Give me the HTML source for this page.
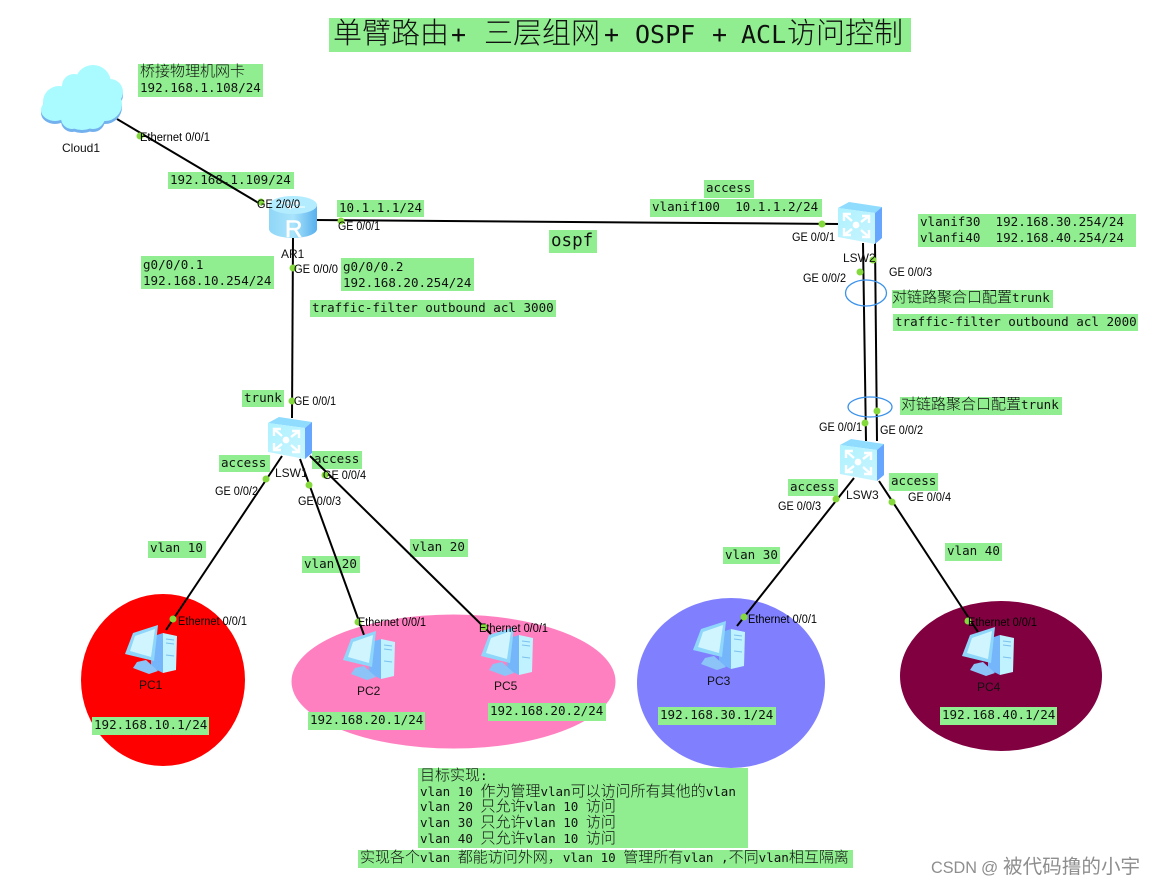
<!DOCTYPE html>
<html lang="zh">
<head>
<meta charset="utf-8">
<title>单臂路由 三层组网 OSPF ACL访问控制</title>
<style>
html,body{margin:0;padding:0;background:#fff}
svg{display:block}
text{white-space:pre}
.bx{fill:#90ee90}
.t{font-family:"DejaVu Sans Mono","Liberation Mono","Noto Sans CJK SC",monospace;font-size:12.55px;fill:#111}
.c{font-family:"Noto Sans CJK SC","WenQuanYi Zen Hei",sans-serif;font-size:15px;font-weight:300}
.title{font-size:25px}
.title .c{font-size:29px}
.p{font-family:"Liberation Sans",sans-serif;font-size:11.5px;fill:#000}
.n{font-family:"Liberation Sans",sans-serif;font-size:12px;fill:#111}
.l{stroke:#000;stroke-width:2;fill:none}
.d{fill:#84d93c}
</style>
</head>
<body>
<svg width="1156" height="885" viewBox="0 0 1156 885" xmlns="http://www.w3.org/2000/svg">
<defs>
<linearGradient id="rg" x1="0" y1="0" x2="1" y2="0"><stop offset="0" stop-color="#8fd6f8"/><stop offset=".5" stop-color="#a9e4fb"/><stop offset="1" stop-color="#58b0ee"/></linearGradient>
<linearGradient id="sg" x1="0" y1="0" x2="1" y2="1"><stop offset="0" stop-color="#aef2ff"/><stop offset="1" stop-color="#c8f4ff"/></linearGradient>
<symbol id="sw" width="46" height="44" viewBox="0 0 46 44" overflow="visible">
<polygon points="0,6 11,0 44,5 37,11" fill="#8fdcff"/>
<polygon points="0,6 37,11 37,42 0,35" fill="url(#sg)"/>
<polygon points="37,11 44,5 44,36 37,42" fill="#66a6ff"/>
<circle cx="18" cy="23" r="3.4" fill="#fff"/>
<g stroke="#fff" stroke-width="2.4" fill="none">
<path d="M6 12l8 7M6 19v-7h7"/><path d="M31 14l-8 6M31 21v-7h-7"/>
<path d="M6 33l8-6M6 26v7h7"/><path d="M31 35l-8-7M31 28v7h-7"/>
</g>
</symbol>
<symbol id="pc" width="56" height="50" viewBox="0 0 56 50" overflow="visible">
<polygon points="27,12 39,8 39,48 27,42" fill="#75b6fb"/>
<polygon points="39,8 53,11 52,45 39,48" fill="#c0f2ff"/>
<path d="M42 14l8 1M42 18l8 1M42 30l8 1" stroke="#7cc0ee" stroke-width="1" fill="none"/>
<polygon points="13,37 22,35 34,46 25,49 9,43" fill="#8cc4f8"/>
<polygon points="9,8 34,0 30,36 1,29" fill="#8fd6fb"/>
<polygon points="11,11 31,4 27,32 6,26" fill="#d0f5ff"/>
</symbol>
<g id="cl">
<circle cx="93" cy="83" r="18"/><circle cx="74" cy="86" r="12"/><circle cx="59" cy="102" r="16"/>
<circle cx="82" cy="108" r="22"/><circle cx="105" cy="104" r="17"/><circle cx="110" cy="92" r="13"/>
<ellipse cx="55" cy="110" rx="14" ry="11"/><circle cx="93" cy="117" r="12"/><circle cx="72" cy="118" r="11"/>
</g>
</defs>

<ellipse cx="163" cy="680" rx="82" ry="86" fill="#ff0000"/>
<ellipse cx="453.5" cy="681.5" rx="162" ry="67" fill="#ff80c0"/>
<ellipse cx="731" cy="683" rx="94" ry="85" fill="#8080ff"/>
<ellipse cx="1001" cy="676" rx="101" ry="75" fill="#800040"/>

<!-- label boxes -->
<rect class="bx" x="329" y="18" width="582" height="34"/>
<rect class="bx" x="138" y="64" width="125" height="33"/>
<rect class="bx" x="168" y="172" width="126" height="17"/>
<rect class="bx" x="337" y="200" width="87" height="17"/>
<rect class="bx" x="141" y="256" width="133" height="33"/>
<rect class="bx" x="341" y="258" width="133" height="33"/>
<rect class="bx" x="310" y="300" width="246" height="17"/>
<rect class="bx" x="549" y="230" width="48" height="23"/>
<rect class="bx" x="704" y="180" width="50" height="18"/>
<rect class="bx" x="650" y="199" width="172" height="18"/>
<rect class="bx" x="918" y="214" width="218" height="33"/>
<rect class="bx" x="892" y="290" width="161" height="18"/>
<rect class="bx" x="893" y="314" width="245" height="17"/>
<rect class="bx" x="900" y="397" width="162" height="18"/>
<rect class="bx" x="242" y="390" width="42" height="17"/>
<rect class="bx" x="219" y="455" width="51" height="17"/>
<rect class="bx" x="312" y="451" width="50" height="18"/>
<rect class="bx" x="788" y="479" width="50" height="17"/>
<rect class="bx" x="889" y="473" width="49" height="18"/>
<rect class="bx" x="148" y="541" width="58" height="17"/>
<rect class="bx" x="302" y="556" width="58" height="17"/>
<rect class="bx" x="410" y="539" width="58" height="18"/>
<rect class="bx" x="723" y="547" width="57" height="17"/>
<rect class="bx" x="945" y="543" width="57" height="18"/>
<rect class="bx" x="92" y="717" width="117" height="18"/>
<rect class="bx" x="308" y="712" width="117" height="18"/>
<rect class="bx" x="488" y="703" width="118" height="18"/>
<rect class="bx" x="658" y="707" width="118" height="18"/>
<rect class="bx" x="940" y="707" width="117" height="18"/>
<rect class="bx" x="418" y="768" width="330" height="80"/>
<rect class="bx" x="358" y="850" width="495" height="18"/>

<!-- links -->
<path class="l" d="M117 119L262 205"/>
<path class="l" d="M315 220L840 224"/>
<path class="l" d="M293 238L292 418"/>
<path class="l" d="M863 243L866 441"/>
<path class="l" d="M875 243L877 441"/>
<path class="l" d="M282 456L166 630"/>
<path class="l" d="M300 459L364 635"/>
<path class="l" d="M310 456L491 634"/>
<path class="l" d="M854 478L737 626"/>
<path class="l" d="M879 481L978 632"/>

<ellipse cx="866" cy="293" rx="20.5" ry="13" fill="none" stroke="#3b92ea" stroke-width="1.3"/>
<ellipse cx="870" cy="407" rx="22" ry="10" fill="none" stroke="#3b92ea" stroke-width="1.3"/>

<!-- cloud -->
<use href="#cl" fill="#73b1ee" transform="translate(0 3)"/>
<use href="#cl" fill="#a9fbff"/>

<!-- router -->
<path d="M269 205V229C269 234 280 238 293 238S317 234 317 229V205Z" fill="url(#rg)"/>
<ellipse cx="293" cy="205" rx="24" ry="9" fill="#b4ecff"/>
<path d="M281 203h17m-3-2l4 2-4 2M305 207h-17m3-2l-4 2 4 2" stroke="#fff" stroke-width="1" fill="none"/>
<text x="285" y="237" font-family="Liberation Sans,sans-serif" font-size="24" fill="#fff" stroke="#fff" stroke-width=".6">R</text>

<!-- switches -->
<use href="#sw" x="268" y="417"/>
<use href="#sw" x="838" y="202"/>
<use href="#sw" x="840" y="439"/>

<!-- PCs -->
<use href="#pc" x="124" y="625"/>
<use href="#pc" x="342" y="631"/>
<use href="#pc" x="480" y="627"/>
<use href="#pc" x="692" y="621"/>
<use href="#pc" x="961" y="627"/>

<!-- port dots -->
<g class="d">
<circle cx="140" cy="136" r="3.5"/><circle cx="261" cy="202" r="3.5"/><circle cx="341" cy="221" r="3.5"/>
<circle cx="293" cy="268" r="3.5"/><circle cx="292" cy="401" r="3.5"/><circle cx="822" cy="224" r="3.5"/>
<circle cx="860" cy="272" r="3.5"/><circle cx="873" cy="260" r="3.5"/><circle cx="865" cy="423" r="3.5"/>
<circle cx="877" cy="411" r="3.5"/><circle cx="266" cy="479" r="3.5"/><circle cx="309" cy="485" r="3.5"/>
<circle cx="325" cy="475" r="3.5"/><circle cx="173" cy="619" r="3.5"/><circle cx="358" cy="622" r="3.5"/>
<circle cx="484" cy="627" r="3.5"/><circle cx="836" cy="499" r="3.5"/><circle cx="892" cy="502" r="3.5"/>
<circle cx="744" cy="617" r="3.5"/><circle cx="968" cy="621" r="3.5"/>
</g>

<!-- mono labels -->
<text class="t title" y="43"><tspan class="c" x="333">单臂路由</tspan><tspan x="451">+</tspan><tspan class="c" x="484">三层组网</tspan><tspan x="604">+</tspan><tspan x="635">OSPF</tspan><tspan x="712">+</tspan><tspan x="741">ACL</tspan><tspan class="c" x="787">访问控制</tspan></text>
<text class="t" x="140" y="76"><tspan class="c">桥接物理机网卡</tspan></text>
<text class="t" x="140" y="92">192.168.1.108/24</text>
<text class="t" x="170" y="184">192.168.1.109/24</text>
<text class="t" x="339" y="212">10.1.1.1/24</text>
<text class="t" x="143" y="269">g0/0/0.1</text>
<text class="t" x="143" y="285">192.168.10.254/24</text>
<text class="t" x="343" y="271">g0/0/0.2</text>
<text class="t" x="343" y="287">192.168.20.254/24</text>
<text class="t" x="312" y="312">traffic-filter outbound acl 3000</text>
<text class="t" style="font-size:17.5px" x="551" y="246">ospf</text>
<text class="t" x="706" y="192">access</text>
<text class="t" x="652" y="211">vlanif100  10.1.1.2/24</text>
<text class="t" x="920" y="226">vlanif30  192.168.30.254/24</text>
<text class="t" x="920" y="242">vlanfi40  192.168.40.254/24</text>
<text class="t" x="892" y="302"><tspan class="c">对链路聚合口配置</tspan>trunk</text>
<text class="t" x="895" y="326">traffic-filter outbound acl 2000</text>
<text class="t" x="901" y="409"><tspan class="c">对链路聚合口配置</tspan>trunk</text>
<text class="t" x="244" y="402">trunk</text>
<text class="t" x="221" y="467">access</text>
<text class="t" x="314" y="463">access</text>
<text class="t" x="790" y="491">access</text>
<text class="t" x="891" y="485">access</text>
<text class="t" x="150" y="552">vlan 10</text>
<text class="t" x="304" y="568">vlan 20</text>
<text class="t" x="412" y="551">vlan 20</text>
<text class="t" x="725" y="559">vlan 30</text>
<text class="t" x="947" y="555">vlan 40</text>
<text class="t" x="94" y="729">192.168.10.1/24</text>
<text class="t" x="310" y="724">192.168.20.1/24</text>
<text class="t" x="490" y="715">192.168.20.2/24</text>
<text class="t" x="660" y="719">192.168.30.1/24</text>
<text class="t" x="942" y="719">192.168.40.1/24</text>
<text class="t" x="420" y="780"><tspan class="c">目标实现</tspan>:</text>
<text class="t" x="420" y="796">vlan 10 <tspan class="c">作为管理</tspan>vlan<tspan class="c">可以访问所有其他的</tspan>vlan</text>
<text class="t" x="420" y="811">vlan 20 <tspan class="c">只允许</tspan>vlan 10 <tspan class="c">访问</tspan></text>
<text class="t" x="420" y="827">vlan 30 <tspan class="c">只允许</tspan>vlan 10 <tspan class="c">访问</tspan></text>
<text class="t" x="420" y="843">vlan 40 <tspan class="c">只允许</tspan>vlan 10 <tspan class="c">访问</tspan></text>
<text class="t" x="360" y="862"><tspan class="c">实现各个</tspan>vlan <tspan class="c">都能访问外网，</tspan>vlan 10 <tspan class="c">管理所有</tspan>vlan ,<tspan class="c">不同</tspan>vlan<tspan class="c">相互隔离</tspan></text>

<!-- port labels -->
<text class="p" x="140" y="141" textLength="70" lengthAdjust="spacingAndGlyphs">Ethernet 0/0/1</text>
<text class="p" x="257" y="208" textLength="43" lengthAdjust="spacingAndGlyphs">GE 2/0/0</text>
<text class="p" x="338" y="230" textLength="42" lengthAdjust="spacingAndGlyphs">GE 0/0/1</text>
<text class="p" x="294" y="273" textLength="44" lengthAdjust="spacingAndGlyphs">GE 0/0/0</text>
<text class="p" x="792" y="241" textLength="43" lengthAdjust="spacingAndGlyphs">GE 0/0/1</text>
<text class="p" x="803" y="282" textLength="43" lengthAdjust="spacingAndGlyphs">GE 0/0/2</text>
<text class="p" x="889" y="276" textLength="43" lengthAdjust="spacingAndGlyphs">GE 0/0/3</text>
<text class="p" x="294" y="405" textLength="42" lengthAdjust="spacingAndGlyphs">GE 0/0/1</text>
<text class="p" x="215" y="495" textLength="43" lengthAdjust="spacingAndGlyphs">GE 0/0/2</text>
<text class="p" x="298" y="505" textLength="43" lengthAdjust="spacingAndGlyphs">GE 0/0/3</text>
<text class="p" x="323" y="479" textLength="43" lengthAdjust="spacingAndGlyphs">GE 0/0/4</text>
<text class="p" x="178" y="625" textLength="69" lengthAdjust="spacingAndGlyphs">Ethernet 0/0/1</text>
<text class="p" x="358" y="626" textLength="68" lengthAdjust="spacingAndGlyphs">Ethernet 0/0/1</text>
<text class="p" x="479" y="632" textLength="69" lengthAdjust="spacingAndGlyphs">Ethernet 0/0/1</text>
<text class="p" x="748" y="623" textLength="69" lengthAdjust="spacingAndGlyphs">Ethernet 0/0/1</text>
<text class="p" x="968" y="626" textLength="69" lengthAdjust="spacingAndGlyphs">Ethernet 0/0/1</text>
<text class="p" x="819" y="431" textLength="43" lengthAdjust="spacingAndGlyphs">GE 0/0/1</text>
<text class="p" x="880" y="434" textLength="43" lengthAdjust="spacingAndGlyphs">GE 0/0/2</text>
<text class="p" x="778" y="510" textLength="43" lengthAdjust="spacingAndGlyphs">GE 0/0/3</text>
<text class="p" x="908" y="501" textLength="43" lengthAdjust="spacingAndGlyphs">GE 0/0/4</text>

<!-- node names -->
<text class="n" x="62" y="152">Cloud1</text>
<text class="n" x="281" y="258">AR1</text>
<text class="n" x="843" y="262">LSW2</text>
<text class="n" x="275" y="477">LSW1</text>
<text class="n" x="846" y="499">LSW3</text>
<text class="n" x="139" y="689">PC1</text>
<text class="n" x="357" y="695">PC2</text>
<text class="n" x="494" y="690">PC5</text>
<text class="n" x="707" y="685">PC3</text>
<text class="n" x="977" y="691">PC4</text>

<!-- watermark -->
<text y="873" font-family="Liberation Sans,Noto Sans CJK SC,sans-serif" fill="#8e8e8e"><tspan x="931" font-size="17" textLength="46" lengthAdjust="spacingAndGlyphs">CSDN</tspan><tspan x="981" font-size="17">@</tspan><tspan x="1003" font-size="19.6">被代码撸的小宇</tspan></text>
</svg>
</body>
</html>
